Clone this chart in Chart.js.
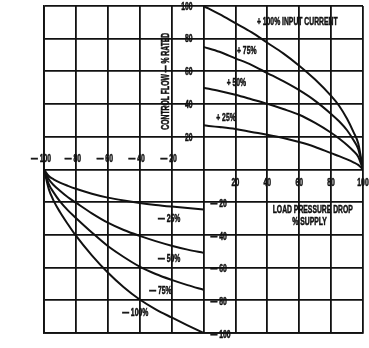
<!DOCTYPE html>
<html>
<head>
<meta charset="utf-8">
<script src="https://cdn.jsdelivr.net/npm/chart.js@4/dist/chart.umd.min.js"></script>
<style>
  html, body { margin: 0; padding: 0; background: #fff; }
  #wrap { width: 369px; height: 348px; }
</style>
</head>
<body>
<div id="wrap"><canvas id="c" width="369" height="348"></canvas></div>
<script>
// Load pressure drop (% supply) sample points
const pressurePos = [0, 10, 20, 30, 40, 50, 60, 70, 80, 85, 90, 94, 97, 100];
const pressureNeg = [-100, -97, -94, -90, -85, -80, -70, -60, -50, -40, -30, -20, -10, 0];

// Control flow (% rated) for each input current
const flowPlus100 = [100, 95, 89.5, 84, 77.5, 71, 63.5, 55, 45, 39, 31, 23, 16, 0];
const flowPlus75  = [75, 72, 68, 64, 59, 54, 48.5, 42, 34, 29.5, 24, 18, 12.5, 0];
const flowPlus50  = [50, 48, 45.7, 43, 40.2, 37, 33.5, 28.5, 22.5, 19, 15, 11.3, 7.8, 0];
const flowPlus25  = [27, 26, 24.8, 23, 21.3, 19.3, 16.8, 13.8, 10, 8.2, 6.2, 4.4, 2.8, 0];

const flowMinus25  = [0, -4, -6, -8, -10, -11.8, -14.8, -17.2, -19, -20.5, -21.7, -22.7, -23.6, -24.5];
const flowMinus50  = [0, -6, -9.5, -13, -17, -20.3, -26.8, -32.5, -37, -40.6, -43.8, -46.6, -49, -51];
const flowMinus75  = [0, -9, -14, -19.5, -25, -29.6, -38.5, -46.8, -53.5, -59.4, -63.9, -67.5, -70.7, -73.5];
const flowMinus100 = [0, -12, -19, -26, -33.5, -40.5, -52.5, -63, -72, -79.5, -85.5, -90.5, -95.3, -100];

const seriesNames = ['+ 100% INPUT CURRENT', '+ 75%', '+ 50%', '+ 25%', '— 25%', '— 50%', '— 75%', '— 100%'];

const xTicksNeg = [-100, -80, -60, -40, -20];
const xTicksPos = [20, 40, 60, 80, 100];
const yTicksPos = [100, 80, 60, 40, 20];
const yTicksNeg = [-20, -40, -60, -80, -100];

const yTitle = 'CONTROL FLOW — % RATED';
const xTitle1 = 'LOAD PRESSURE DROP';
const xTitle2 = '% SUPPLY';

function pts(xs, ys) { return xs.map((x, i) => ({ x: x, y: ys[i] })); }

const allSeries = [
  pts(pressurePos, flowPlus100), pts(pressurePos, flowPlus75),
  pts(pressurePos, flowPlus50), pts(pressurePos, flowPlus25),
  pts(pressureNeg, flowMinus25), pts(pressureNeg, flowMinus50),
  pts(pressureNeg, flowMinus75), pts(pressureNeg, flowMinus100)
];

// label anchors (data coordinates), left edge of text
const labelAnchors = [[33.5, 90], [21, 72.5], [14.5, 53], [8, 31.5], [-28.5, -30.7], [-28.5, -54.6], [-34, -74.6], [-51, -87.8]];

const FONT = 'bold 10px "Liberation Sans", Arial, sans-serif';
const SQUEEZE = 0.68;

function txt(ctx, s, x, y, align, rot) {
  ctx.save();
  ctx.translate(x, y);
  if (rot) ctx.rotate(rot);
  ctx.scale(SQUEEZE, 1);
  ctx.textAlign = align;
  ctx.fillText(s, 0, 0);
  ctx.lineWidth = 0.5;
  ctx.strokeText(s, 0, 0);
  ctx.restore();
}

const textPlugin = {
  id: 'texts',
  afterDraw(chart) {
    const ctx = chart.ctx;
    const xs = chart.scales.x, ys = chart.scales.y;
    const x0 = xs.getPixelForValue(0), y0 = ys.getPixelForValue(0);
    ctx.save();
    ctx.fillStyle = '#111';
    ctx.strokeStyle = '#111';
    ctx.font = FONT;
    ctx.textBaseline = 'middle';
    xTicksNeg.forEach(v => txt(ctx, '— ' + Math.abs(v), xs.getPixelForValue(v) - 3, y0 - 10, 'center'));
    xTicksPos.forEach(v => txt(ctx, String(v), xs.getPixelForValue(v), y0 + 14, 'center'));
    yTicksPos.forEach(v => txt(ctx, String(v), x0 - 11, ys.getPixelForValue(v) + 1, 'right'));
    yTicksNeg.forEach(v => txt(ctx, '— ' + Math.abs(v), x0 + 7, ys.getPixelForValue(v) + 2, 'left'));
    seriesNames.forEach((s, i) => {
      const a = labelAnchors[i];
      txt(ctx, s, xs.getPixelForValue(a[0]), ys.getPixelForValue(a[1]), 'left');
    });
    txt(ctx, xTitle1, xs.getPixelForValue(68.5), ys.getPixelForValue(-25), 'center');
    txt(ctx, xTitle2, xs.getPixelForValue(66.5), ys.getPixelForValue(-32), 'center');
    txt(ctx, yTitle, xs.getPixelForValue(-23.5), ys.getPixelForValue(54), 'center', -Math.PI / 2);
    ctx.restore();
  }
};

const bgPlugin = {
  id: 'bg',
  beforeDraw(chart) {
    const ctx = chart.ctx;
    ctx.save();
    ctx.fillStyle = '#fff';
    ctx.fillRect(0, 0, chart.width, chart.height);
    ctx.restore();
  }
};

new Chart(document.getElementById('c'), {
  type: 'line',
  data: {
    datasets: allSeries.map((d, i) => ({
      label: seriesNames[i],
      data: d,
      borderColor: '#111',
      borderWidth: 2,
      pointRadius: 0,
      fill: false,
      cubicInterpolationMode: 'monotone'
    }))
  },
  options: {
    responsive: false,
    devicePixelRatio: 1,
    animation: false,
    layout: { padding: { left: 44, right: 6, top: 6, bottom: 15 } },
    plugins: { legend: { display: false }, tooltip: { enabled: false } },
    scales: {
      x: {
        type: 'linear', min: -100, max: 100,
        ticks: { display: false, stepSize: 20 },
        grid: { color: '#111', lineWidth: 1.8, drawTicks: false },
        border: { color: '#111', width: 1.8 }
      },
      y: {
        type: 'linear', min: -100, max: 100,
        ticks: { display: false, stepSize: 20 },
        grid: { color: '#111', lineWidth: 1.8, drawTicks: false },
        border: { color: '#111', width: 1.8 }
      }
    }
  },
  plugins: [bgPlugin, textPlugin]
});
</script>
</body>
</html>
